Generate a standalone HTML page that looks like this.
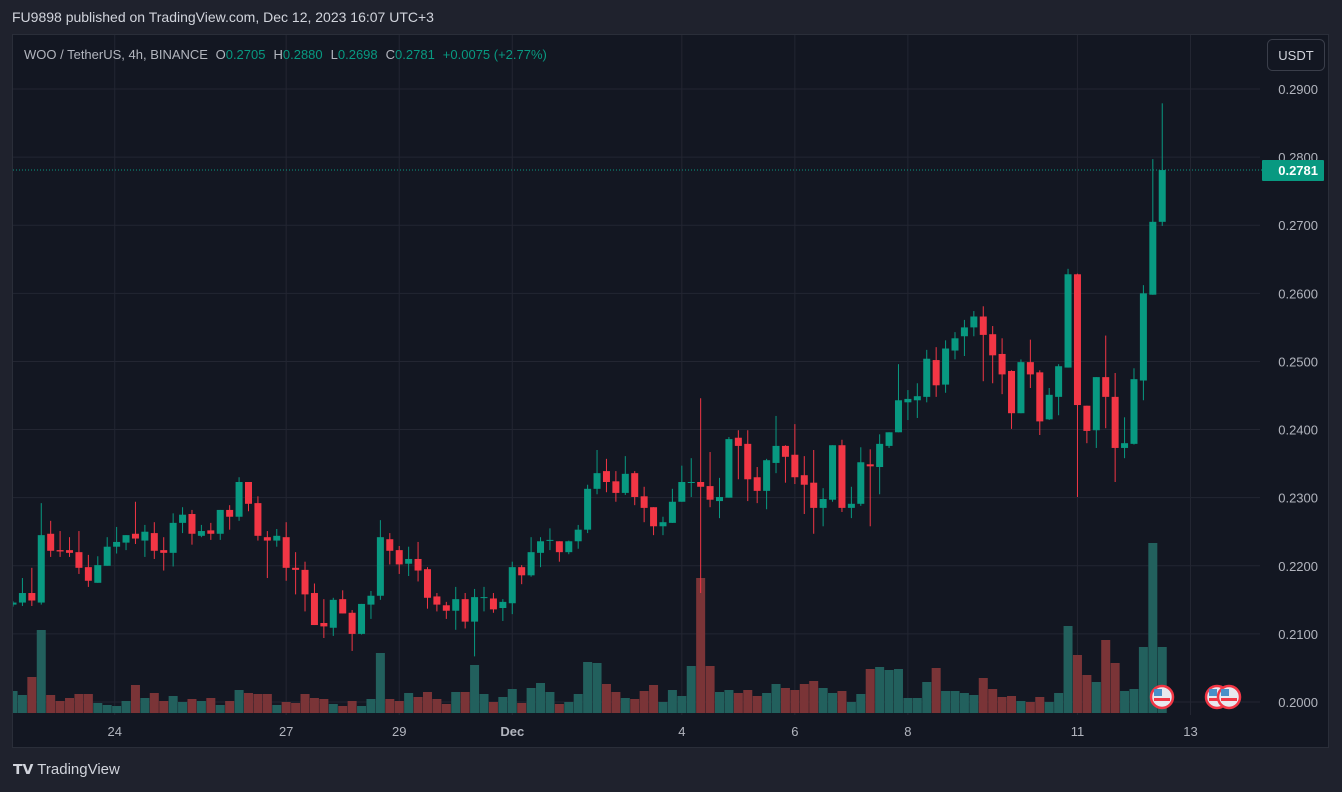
<!DOCTYPE html>
<html><head><meta charset="utf-8">
<style>
body{margin:0;width:1342px;height:792px;background:#1f222d;overflow:hidden;font-family:"Liberation Sans",sans-serif;}
#hdr{position:absolute;left:12px;top:9px;color:#d1d4dc;font-size:14px;}
#logo{position:absolute;left:13px;top:761px;color:#d1d4dc;font-size:15px;}
svg{position:absolute;left:0;top:0;}
</style></head><body>
<div id="hdr">FU9898 published on TradingView.com, Dec 12, 2023 16:07 UTC+3</div>
<div id="logo"><b style="font-size:14px">𝗧𝗩</b> TradingView</div>
<svg id="c" width="1342" height="792"></svg>
<script>
const opens=[.2143,.2146,.2160,.2146,.2247,.2223,.2223,.2220,.2198,.2175,.2200,.2228,.2234,.2247,.2237,.2248,.2223,.2219,.2263,.2276,.2244,.2252,.2247,.2282,.2272,.2323,.2292,.2242,.2237,.2242,.2197,.2194,.2160,.2116,.2109,.2151,.2131,.2100,.2143,.2156,.2239,.2223,.2203,.2210,.2195,.2155,.2142,.2134,.2151,.2118,.2153,.2152,.2138,.2145,.2198,.2186,.2219,.2237,.2236,.2220,.2236,.2253,.2313,.2339,.2324,.2307,.2336,.2302,.2286,.2258,.2263,.2294,.2322,.2323,.2317,.2295,.2300,.2388,.2379,.2330,.2310,.2351,.2376,.2363,.2333,.2322,.2285,.2297,.2377,.2285,.2291,.2349,.2345,.2376,.2396,.2440,.2443,.2448,.2502,.2466,.2516,.2537,.2550,.2566,.2540,.2511,.2486,.2424,.2499,.2484,.2415,.2448,.2491,.2628,.2435,.2399,.2477,.2448,.2373,.2379,.2472,.2598,.2705];
const highs=[.2148,.2182,.2197,.2292,.2266,.2251,.2242,.2251,.2216,.2214,.2242,.2257,.2245,.2294,.2260,.2264,.2242,.2277,.2286,.2282,.2260,.2263,.2282,.2289,.2330,.2323,.2302,.2251,.2254,.2264,.2220,.2206,.2174,.2151,.2153,.2164,.2135,.2144,.2163,.2267,.2248,.2229,.2228,.2235,.2198,.2160,.2147,.2169,.2160,.2166,.2169,.2160,.2151,.2206,.2201,.2242,.2242,.2255,.2236,.2237,.2260,.2319,.2370,.2357,.2339,.2361,.2339,.2316,.2286,.2272,.2313,.2347,.2358,.2446,.2367,.2329,.2389,.2399,.2399,.2345,.2357,.2420,.2377,.2408,.2361,.2370,.2314,.2377,.2385,.2316,.2374,.2371,.2393,.2396,.2496,.2458,.2468,.2517,.2521,.2531,.2543,.2561,.2574,.2581,.2552,.2534,.2487,.2503,.2532,.2487,.2461,.2496,.2636,.2629,.2435,.2477,.2538,.2483,.2418,.2490,.2612,.2797,.2879];
const lows=[.2140,.2141,.2141,.2143,.2213,.2213,.2213,.2188,.2169,.2175,.2200,.2218,.2223,.2232,.2213,.2210,.2193,.2199,.2248,.2231,.2242,.2238,.2238,.2253,.2266,.2280,.2237,.2182,.2228,.2178,.2158,.2133,.2113,.2094,.2097,.2130,.2075,.2099,.2122,.2150,.2202,.2188,.2185,.2177,.2137,.2133,.2122,.2106,.2108,.2067,.2133,.2131,.2119,.2129,.2173,.2184,.2198,.2223,.2206,.2217,.2225,.2248,.2305,.2308,.2294,.2304,.2289,.2264,.2245,.2245,.2263,.2294,.2301,.2160,.2286,.2270,.2300,.2327,.2295,.2292,.2283,.2336,.2322,.2320,.2276,.2247,.2258,.2294,.2279,.2270,.2288,.2258,.2305,.2373,.2396,.2414,.2417,.2440,.2448,.2454,.2503,.2508,.2537,.2471,.2468,.2452,.2401,.2424,.2461,.2392,.2414,.2421,.2491,.2301,.2380,.2373,.2402,.2323,.2358,.2378,.2443,.2598,.2699];
const closes=[.2146,.2160,.2149,.2245,.2222,.2221,.2219,.2197,.2178,.2201,.2228,.2235,.2245,.2240,.2250,.2222,.2219,.2263,.2275,.2247,.2251,.2247,.2282,.2272,.2323,.2291,.2244,.2237,.2244,.2197,.2194,.2158,.2113,.2111,.2150,.2130,.2100,.2144,.2156,.2242,.2222,.2202,.2210,.2193,.2153,.2143,.2134,.2151,.2118,.2154,.2154,.2136,.2147,.2198,.2186,.2220,.2236,.2238,.2220,.2236,.2253,.2313,.2336,.2323,.2307,.2335,.2301,.2285,.2258,.2264,.2294,.2323,.2323,.2316,.2297,.2301,.2386,.2376,.2327,.2310,.2355,.2376,.2360,.2330,.2319,.2285,.2298,.2377,.2285,.2291,.2352,.2346,.2379,.2396,.2443,.2445,.2449,.2504,.2465,.2519,.2534,.2550,.2566,.2539,.2509,.2481,.2424,.2499,.2481,.2412,.2451,.2493,.2628,.2436,.2398,.2477,.2448,.2373,.2380,.2474,.2600,.2705,.2781];
const volumes=[22,18,36,83,18,12,15,19,19,10,8,7,12,28,15,20,12,17,11,14,12,15,8,12,23,20,19,19,8,11,10,19,15,14,9,7,12,7,14,60,14,12,20,16,21,14,9,21,21,48,19,11,16,24,10,25,30,21,9,11,19,51,50,29,21,15,14,22,28,11,23,17,47,135,47,21,23,20,23,17,20,29,25,23,29,32,25,20,22,11,19,44,46,43,44,15,15,31,45,22,22,20,18,35,24,16,17,12,11,16,11,20,87,58,38,31,73,50,22,24,66,170,66];
const priceTicks=[0.29,0.28,0.27,0.26,0.25,0.24,0.23,0.22,0.21,0.20];
const dateLabels=["24","27","29","Dec","4","6","8","11","13"];
const dateIndex=[10.8,29,41,53,71,83,95,113,125];
const lastPrice=0.2781;

const S=document.getElementById('c'),NS='http://www.w3.org/2000/svg';
function mk(t,a,p){const e=document.createElementNS(NS,t);for(const k in a)e.setAttribute(k,a[k]);(p||S).appendChild(e);return e;}
const yP=p=>702-(p-0.2)*6811;
const xI=i=>13+i*9.42;
const yV=v=>713-v;

const panel=mk('rect',{x:12.5,y:34.5,width:1316,height:713,fill:'#131722',stroke:'#2a2e39'});


mk('clipPath',{id:'cp'});mk('rect',{x:13,y:35,width:1242,height:680},document.getElementById('cp'));
priceTicks.forEach(p=>{
  const l=mk('line',{x1:13,x2:1260,y1:yP(p),y2:yP(p),stroke:'#232632'});
  
  
  const t=mk('text',{x:1318,y:yP(p)+5,fill:'#b2b5be','font-size':13,'text-anchor':'end'});
  t.textContent=p.toFixed(4);
  
  
});
dateLabels.forEach((d,k)=>{
  const x=xI(dateIndex[k]);
  const l=mk('line',{x1:x,x2:x,y1:35,y2:715,stroke:'#232632'});
  
  
  const t=mk('text',{x:x,y:736,fill:'#b2b5be','font-size':13,'text-anchor':'middle','font-weight':d=='Dec'?'bold':'normal'});
  t.textContent=d;
  
  
});
const g=mk('g',{'clip-path':'url(#cp)'});
volumes.forEach((v,i)=>{
  const up=closes[i]>=opens[i];
  const r=mk('rect',{x:xI(i)-4.5,y:yV(v),width:9,height:v,fill:up?'#22605d':'#7a3437'},g);
  
  
});
opens.forEach((o,i)=>{
  const c=closes[i],up=c>=o,col=up?'#089981':'#f23645',x=xI(i);
  const w=mk('line',{x1:x,x2:x,y1:yP(highs[i]),y2:yP(lows[i]),stroke:col,'stroke-width':1},g);
  
  
  const top=yP(Math.max(o,c)),h=Math.max(1,Math.abs(yP(o)-yP(c)));
  const b=mk('rect',{x:x-3.5,y:top,width:7,height:h,fill:col},g);
  
  
});
const pl=mk('line',{x1:13,x2:1265,y1:yP(lastPrice),y2:yP(lastPrice),stroke:'#089981','stroke-dasharray':'1 2'});


const lb=mk('rect',{x:1262,y:yP(lastPrice)-10,width:62,height:21,fill:'#089981',rx:1});


const lt=mk('text',{x:1318,y:yP(lastPrice)+5,fill:'#fff','font-size':13,'font-weight':'bold','text-anchor':'end'});
lt.textContent=lastPrice.toFixed(4);
const ub=mk('rect',{x:1267.5,y:39.5,width:57,height:31,rx:5,fill:'#131722',stroke:'#3a3e4a'});


const ut=mk('text',{x:1296,y:60,fill:'#d1d4dc','font-size':13,'text-anchor':'middle'});ut.textContent='USDT';
[1162,1217,1229].forEach(x=>{
  const f=mk('circle',{cx:x,cy:697,r:11,fill:'#e8e8ee',stroke:'#f23645','stroke-width':2.5});
  
  
  mk('rect',{x:x-8,y:689,width:8,height:7,fill:'#4a90c8'});
  mk('rect',{x:x-8,y:698,width:16,height:3,fill:'#f23645'});
});
const leg=mk('text',{x:24,y:59,'font-size':13,fill:'#b2b5be'});


leg.innerHTML='WOO / TetherUS, 4h, BINANCE  <tspan dx="4">O</tspan><tspan fill="#089981">0.2705</tspan><tspan dx="8">H</tspan><tspan fill="#089981">0.2880</tspan><tspan dx="8">L</tspan><tspan fill="#089981">0.2698</tspan><tspan dx="8">C</tspan><tspan fill="#089981">0.2781</tspan><tspan dx="8" fill="#089981">+0.0075 (+2.77%)</tspan>';
</script>
</body></html>
